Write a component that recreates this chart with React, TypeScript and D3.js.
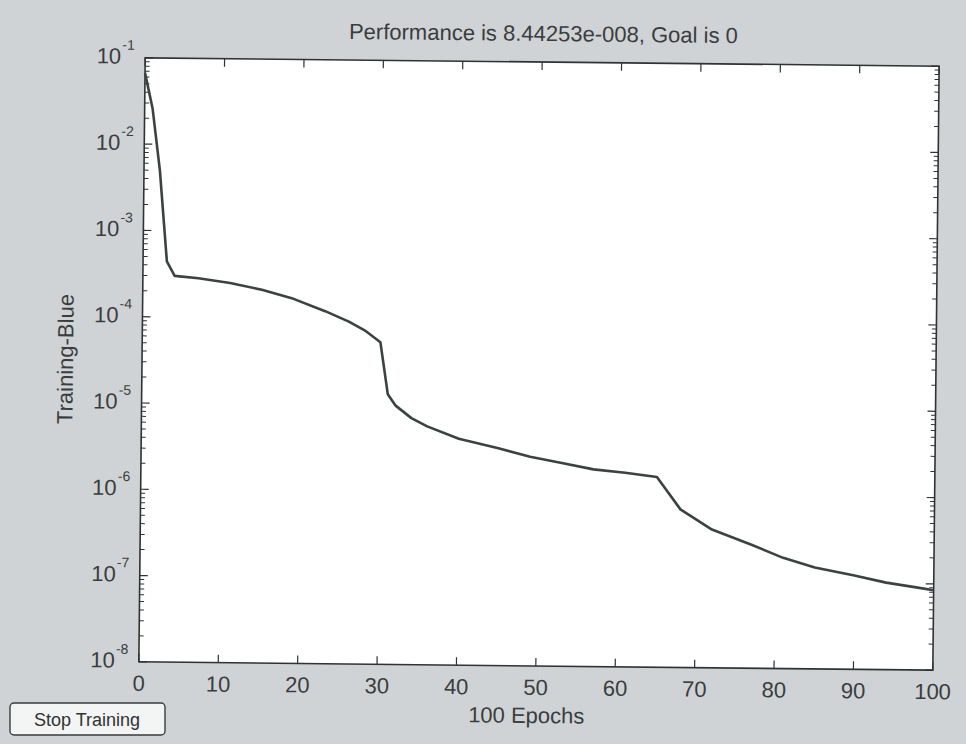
import { useEffect, useRef } from "react";
import * as d3 from "d3";

// values
const epochs = [0, 1, 2, 3, 4, 7, 11, 15, 19, 23, 26, 28, 30, 31, 32, 34, 36, 40, 45, 49, 53, 57, 61, 65, 68, 72, 77, 81, 85, 90, 94, 98, 100];
const performance = [
  0.067, 0.026, 0.005, 4.4e-4, 3.0e-4, 2.83e-4, 2.52e-4, 2.12e-4, 1.68e-4, 1.22e-4, 9.3e-5, 7.4e-5, 5.4e-5,
  1.35e-5, 1.0e-5, 7.2e-6, 5.8e-6, 4.2e-6, 3.3e-6, 2.65e-6, 2.27e-6, 1.93e-6, 1.78e-6, 1.6e-6, 6.8e-7,
  4.0e-7, 2.7e-7, 1.92e-7, 1.5e-7, 1.22e-7, 1.02e-7, 9.0e-8, 8.44e-8,
];
const yDecades = [-8, -7, -6, -5, -4, -3, -2, -1];
const xTickValues = [0, 10, 20, 30, 40, 50, 60, 70, 80, 90, 100];

const titleText = "Performance is 8.44253e-008, Goal is 0";
const xLabel = "100 Epochs";
const yLabel = "Training-Blue";

export default function App() {
  const svgRef = useRef<SVGSVGElement>(null);

  useEffect(() => {
    if (!svgRef.current) return;
    const root = d3.select(svgRef.current);
    root.selectAll("*").remove();

    const W = 966;
    const H = 744;
    const font = "'Liberation Sans', Arial, sans-serif";
    const ink = "#2f3333";

    root.attr("width", W).attr("height", H);
    root.append("rect").attr("width", W).attr("height", H).attr("fill", "#cfd3d5");

    // the scan is slightly tilted
    const g = root.append("g").attr("transform", "rotate(0.6, 539, 364)");

    const left = 142;
    const right = 936;
    const top = 62;
    const bottom = 666;

    const x = d3.scaleLinear().domain([0, 100]).range([left, right]);
    const y = d3.scaleLog().domain([1e-8, 1e-1]).range([bottom, top]);

    g.append("rect")
      .attr("x", left)
      .attr("y", top)
      .attr("width", right - left)
      .attr("height", bottom - top)
      .attr("fill", "#ffffff");

    // x ticks (bottom and top, inward)
    const tickLen = 8;
    xTickValues.forEach((v) => {
      g.append("line")
        .attr("x1", x(v)).attr("x2", x(v))
        .attr("y1", bottom).attr("y2", bottom - tickLen)
        .attr("stroke", ink).attr("stroke-width", 1.2);
      g.append("line")
        .attr("x1", x(v)).attr("x2", x(v))
        .attr("y1", top).attr("y2", top + tickLen)
        .attr("stroke", ink).attr("stroke-width", 1.2);
      g.append("text")
        .attr("x", x(v))
        .attr("y", bottom + 29)
        .attr("text-anchor", "middle")
        .attr("font-family", font)
        .attr("font-size", 22)
        .attr("fill", "#3a3d3e")
        .text(String(v));
    });

    // y ticks: log decades plus minor ticks, both sides
    yDecades.forEach((d) => {
      const base = Math.pow(10, d);
      [left, right].forEach((side) => {
        const dir = side === left ? 1 : -1;
        g.append("line")
          .attr("x1", side).attr("x2", side + dir * tickLen)
          .attr("y1", y(base)).attr("y2", y(base))
          .attr("stroke", ink).attr("stroke-width", 1.2);
        if (d < -1) {
          d3.range(2, 10).forEach((k) => {
            g.append("line")
              .attr("x1", side).attr("x2", side + dir * 4.5)
              .attr("y1", y(k * base)).attr("y2", y(k * base))
              .attr("stroke", ink).attr("stroke-width", 1);
          });
        }
      });
      g.append("text")
        .attr("x", left - 24)
        .attr("y", y(base) + 6)
        .attr("text-anchor", "end")
        .attr("font-family", font)
        .attr("font-size", 22)
        .attr("fill", "#3a3d3e")
        .text("10");
      g.append("text")
        .attr("x", left - 23)
        .attr("y", y(base) - 8)
        .attr("font-family", font)
        .attr("font-size", 14)
        .attr("fill", "#3a3d3e")
        .text(String(d));
    });

    // axes box
    g.append("rect")
      .attr("x", left)
      .attr("y", top)
      .attr("width", right - left)
      .attr("height", bottom - top)
      .attr("fill", "none")
      .attr("stroke", ink)
      .attr("stroke-width", 1.6);

    // training curve
    const pts = epochs.map((e, i) => ({ e, v: performance[i] }));
    const line = d3
      .line<{ e: number; v: number }>()
      .x((d) => x(d.e))
      .y((d) => y(d.v));

    g.append("path")
      .datum(pts)
      .attr("fill", "none")
      .attr("stroke", "#3c4242")
      .attr("stroke-width", 2.6)
      .attr("stroke-linejoin", "round")
      .attr("d", line);

    // title and labels
    g.append("text")
      .attr("x", 540)
      .attr("y", 41)
      .attr("text-anchor", "middle")
      .attr("font-family", font)
      .attr("font-size", 22)
      .attr("fill", "#3a3d3e")
      .text(titleText);

    g.append("text")
      .attr("x", 530)
      .attr("y", 723)
      .attr("text-anchor", "middle")
      .attr("font-family", font)
      .attr("font-size", 22)
      .attr("fill", "#3a3d3e")
      .text(xLabel);

    g.append("text")
      .attr("transform", `translate(73, ${(top + bottom) / 2}) rotate(-90)`)
      .attr("text-anchor", "middle")
      .attr("font-family", font)
      .attr("font-size", 22)
      .attr("fill", "#3a3d3e")
      .text(yLabel);

    // Stop Training button
    root.append("rect")
      .attr("x", 10)
      .attr("y", 703)
      .attr("width", 155)
      .attr("height", 32)
      .attr("rx", 4)
      .attr("fill", "#f3f4f4")
      .attr("stroke", "#3a3d3e")
      .attr("stroke-width", 1.4);

    root.append("text")
      .attr("x", 87)
      .attr("y", 726)
      .attr("text-anchor", "middle")
      .attr("font-family", font)
      .attr("font-size", 18)
      .attr("fill", "#2f3333")
      .text("Stop Training");
  }, []);

  return <svg ref={svgRef} style={{ position: "absolute", left: 0, top: 0, display: "block" }}></svg>;
}
